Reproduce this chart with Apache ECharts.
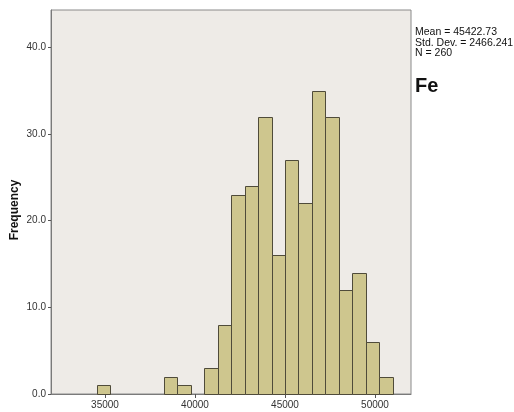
<!DOCTYPE html>
<html>
<head>
<meta charset="utf-8">
<script src="https://cdn.jsdelivr.net/npm/echarts@6/dist/echarts.min.js"></script>
<style>
  html, body { margin: 0; padding: 0; background: #ffffff; }
  #chart { width: 514px; height: 412px; }
</style>
</head>
<body>
<div id="chart"></div>
<script>
// Histogram of Fe: bins start at binStart and are binWidth wide
const binStart = 34540;
const binWidth = 747;
const counts = [1, 0, 0, 0, 0, 2, 1, 0, 3, 8, 23, 24, 32, 16, 27, 22, 35, 32, 12, 14, 6, 2];
const xTicks = [35000, 40000, 45000, 50000];
const yTicks = [0, 10, 20, 30, 40];
const statsLines = ['Mean = 45422.73', 'Std. Dev. = 2466.241', 'N = 260'];
const variableName = 'Fe';
const yAxisTitle = 'Frequency';

const binData = counts.map((c, i) => [binStart + i * binWidth, binStart + (i + 1) * binWidth, c]);

const chart = echarts.init(document.getElementById('chart'), null, { renderer: 'canvas' });

chart.setOption({
  animation: false,
  backgroundColor: '#ffffff',
  grid: {
    left: 51, top: 10, right: 103, bottom: 18,
    outerBoundsMode: 'none',
    containLabel: false,
    show: true,
    backgroundColor: '#EEEBE7',
    borderColor: '#8a8a8a',
    borderWidth: 1
  },
  xAxis: {
    type: 'value',
    min: 32000,
    max: 52000,
    splitLine: { show: false },
    axisLine: { show: true, lineStyle: { color: '#7a7a7a', width: 1 } },
    axisTick: { show: true, length: 4, customValues: xTicks, lineStyle: { color: '#555' } },
    axisLabel: {
      customValues: xTicks,
      formatter: v => String(v),
      color: '#333', fontFamily: 'Liberation Sans, Arial', fontSize: 10, margin: 6
    }
  },
  yAxis: {
    type: 'value',
    min: 0,
    max: 44.3,
    interval: 10,
    name: yAxisTitle,
    nameLocation: 'middle',
    nameGap: 30,
    nameMoveOverlap: false,
    nameTextStyle: {
      color: '#111', fontFamily: 'Liberation Sans, Arial', fontSize: 12, fontWeight: 'bold',
      padding: [0, 16, 0, 0]
    },
    splitLine: { show: false },
    axisLine: { show: true, lineStyle: { color: '#7a7a7a', width: 1 } },
    axisTick: { show: true, length: 3, customValues: yTicks, lineStyle: { color: '#555' } },
    axisLabel: {
      customValues: yTicks,
      formatter: v => v.toFixed(1),
      color: '#333', fontFamily: 'Liberation Sans, Arial', fontSize: 10, margin: 5
    }
  },
  series: [{
    type: 'custom',
    data: binData,
    encode: { x: [0, 1], y: 2 },
    renderItem: function (params, api) {
      const count = api.value(2);
      if (!count) return null;
      const p0 = api.coord([api.value(0), 0]);
      const p1 = api.coord([api.value(1), count]);
      return {
        type: 'rect',
        shape: {
          x: Math.round(p0[0]) + 0.5,
          y: Math.round(p1[1]) + 0.5,
          width: Math.round(p1[0]) - Math.round(p0[0]),
          height: Math.round(p0[1]) - Math.round(p1[1])
        },
        style: { fill: '#CEC68E', stroke: '#4f4b3a', lineWidth: 1 }
      };
    }
  }],
  graphic: [
    {
      type: 'text', left: 415, top: 27,
      style: {
        text: statsLines.join('\n'),
        fill: '#111', font: '10.5px "Liberation Sans", Arial', lineHeight: 10.5
      }
    },
    {
      type: 'text', left: 415, top: 76,
      style: { text: variableName, fill: '#111', font: 'bold 20px "Liberation Sans", Arial' }
    }
  ]
});
</script>
</body>
</html>
